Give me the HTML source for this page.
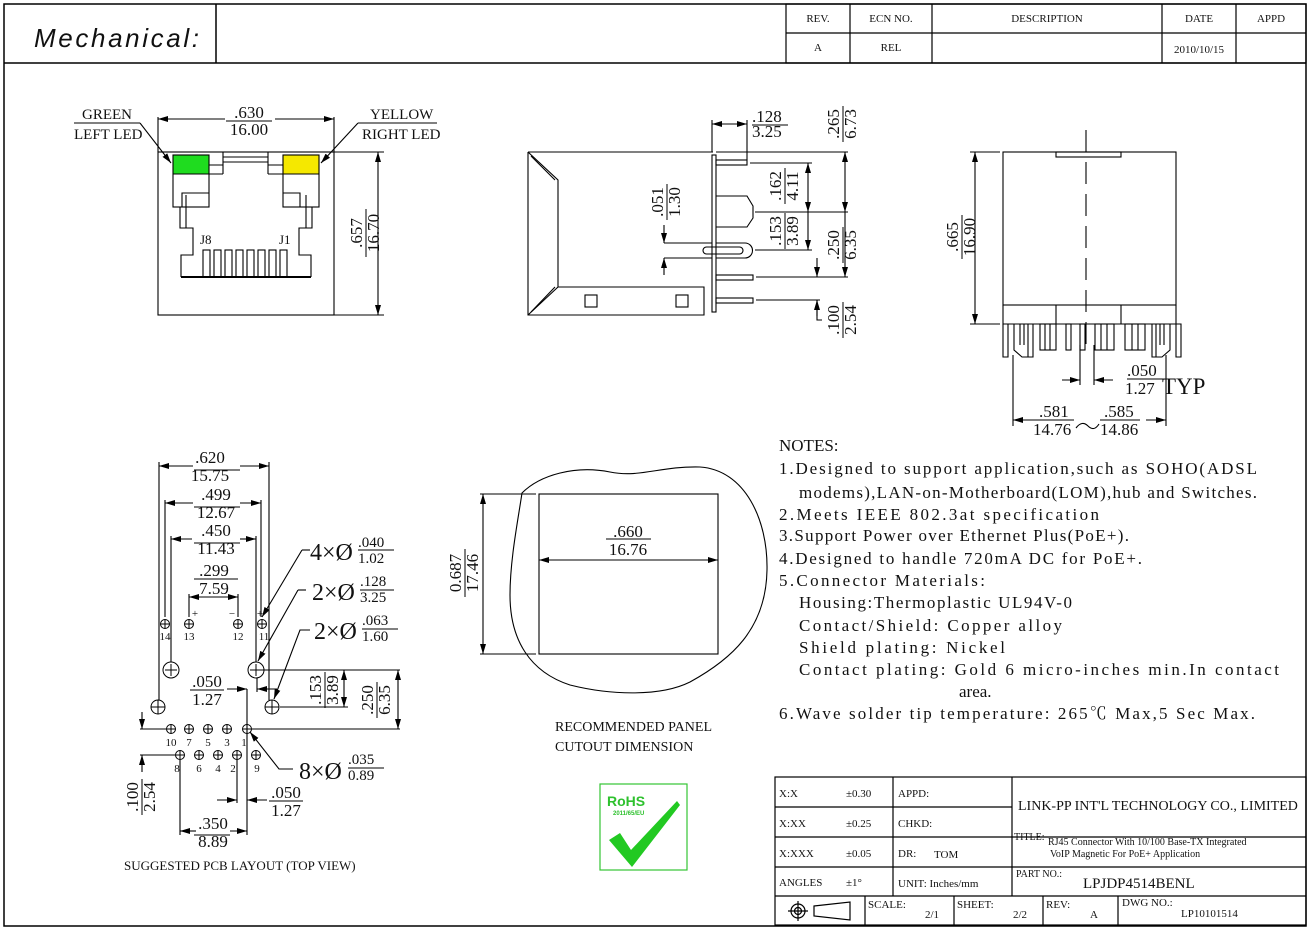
<!DOCTYPE html>
<html><head><meta charset="utf-8"><style>
html,body{margin:0;padding:0;background:#fff}
svg{display:block}
text{font-family:"Liberation Serif","Noto Serif CJK SC",serif;fill:#111}
.s{font-family:"Liberation Sans Narrow","Liberation Sans",sans-serif}
</style></head><body>
<svg width="1310" height="929" viewBox="0 0 1310 929" xmlns="http://www.w3.org/2000/svg">
<defs>
<marker id="a" viewBox="0 0 10 6" refX="10" refY="3" markerWidth="10" markerHeight="6" orient="auto-start-reverse" markerUnits="userSpaceOnUse"><path d="M0 0L10 3L0 6z" fill="#000"/></marker>
</defs>
<g fill="none" stroke="#000" stroke-width="1.2">
<!-- frame -->
<rect x="4" y="4" width="1302" height="922" stroke-width="1.5"/>
<line x1="4" y1="63" x2="1306" y2="63" stroke-width="1.5"/>
<line x1="216" y1="4" x2="216" y2="63" stroke-width="1.5"/>
<rect x="786" y="4" width="520" height="59"/>
<line x1="786" y1="33" x2="1306" y2="33"/>
<line x1="850" y1="4" x2="850" y2="63"/><line x1="932" y1="4" x2="932" y2="63"/>
<line x1="1162" y1="4" x2="1162" y2="63"/><line x1="1236" y1="4" x2="1236" y2="63"/>
</g>
<text x="34" y="47" font-size="26" font-style="italic" class="s" textLength="165">Mechanical:</text>
<g font-size="11" text-anchor="middle">
<text x="818" y="22">REV.</text><text x="891" y="22">ECN NO.</text><text x="1047" y="22">DESCRIPTION</text><text x="1199" y="22">DATE</text><text x="1271" y="22">APPD</text>
<text x="818" y="51">A</text><text x="891" y="51">REL</text><text x="1199" y="53">2010/10/15</text>
</g>

<!-- ===== top-left front view ===== -->
<rect x="173" y="155" width="36" height="19" fill="#1fdc1f"/>
<rect x="283" y="155" width="36" height="19" fill="#f5e800"/>
<g fill="none" stroke="#000" stroke-width="1.1">
<rect x="158" y="152" width="176" height="163"/>
<rect x="173" y="155" width="36" height="52"/><line x1="173" y1="174" x2="209" y2="174"/>
<rect x="283" y="155" width="36" height="52"/><line x1="283" y1="174" x2="319" y2="174"/>
<path d="M223 174V152H268V174M223 157H268M223 162H268M209 165H223M209 174H223M268 165H283M268 174H283"/>
<path d="M182 207V193H209M300 207V193H283"/>
<path d="M180 207V228H193V255H181V277M312 207V228H299V255H311V277"/>
<path d="M186 195V228M306 195V228"/>
<line x1="181" y1="277" x2="311" y2="277" stroke-width="2"/>
<g>
<rect x="203" y="250" width="7" height="27"/><rect x="214" y="250" width="7" height="27"/><rect x="225" y="250" width="7" height="27"/><rect x="236" y="250" width="7" height="27"/><rect x="247" y="250" width="7" height="27"/><rect x="258" y="250" width="7" height="27"/><rect x="269" y="250" width="7" height="27"/><rect x="280" y="250" width="7" height="27"/>
</g>
<line x1="158" y1="117" x2="158" y2="152"/><line x1="334" y1="117" x2="334" y2="152"/>
<line x1="158" y1="119" x2="225" y2="119" marker-start="url(#a)"/><line x1="275" y1="119" x2="334" y2="119" marker-end="url(#a)"/>
<line x1="334" y1="152" x2="384" y2="152"/><line x1="334" y1="315" x2="384" y2="315"/>
<line x1="378" y1="152" x2="378" y2="315" marker-start="url(#a)" marker-end="url(#a)"/>
<line x1="74" y1="123" x2="140" y2="123"/><line x1="140" y1="123" x2="171" y2="163" marker-end="url(#a)"/>
<line x1="358" y1="123" x2="437" y2="123"/><line x1="358" y1="123" x2="321" y2="163" marker-end="url(#a)"/>
<line x1="226" y1="121" x2="272" y2="121"/>
</g>
<g font-size="15">
<text x="82" y="119">GREEN</text><text x="74" y="139">LEFT LED</text>
<text x="370" y="119">YELLOW</text><text x="362" y="139">RIGHT LED</text>
<text x="249" y="118" font-size="17" text-anchor="middle">.630</text><text x="249" y="135" font-size="17" text-anchor="middle">16.00</text>
<text x="200" y="244" font-size="13">J8</text><text x="279" y="244" font-size="13">J1</text>
</g>
<g transform="translate(366,233) rotate(-90)" font-size="17" text-anchor="middle"><text x="0" y="-4">.657</text><text x="0" y="13">16.70</text><line x1="-24" y1="0" x2="24" y2="0" stroke="#000"/></g>

<!-- ===== top-middle side view ===== -->
<g fill="none" stroke="#000" stroke-width="1.1">
<path d="M528 152H713M528 152V315H704V287H558V180L528 152M558 287L528 315"/>
<path d="M531 156L555 180M531 312L555 287"/>
<rect x="712" y="155" width="4" height="157"/>
<rect x="585" y="295" width="12" height="12"/><rect x="676" y="295" width="12" height="12"/>
<rect x="716" y="160" width="31" height="5"/>
<path d="M716 196H747L753 206V218L747 227H716"/>
<path d="M716 243H745A7.5 7.5 0 0 1 745 258H716"/><rect x="703" y="247" width="40" height="7" rx="3.5"/>
<rect x="716" y="275" width="37" height="5"/><rect x="716" y="298" width="37" height="5"/>
<line x1="712" y1="120" x2="712" y2="152"/><line x1="747" y1="120" x2="747" y2="160"/>
<line x1="712" y1="124" x2="747" y2="124" marker-start="url(#a)" marker-end="url(#a)"/>
<line x1="716" y1="152" x2="848" y2="152"/><line x1="756" y1="277" x2="848" y2="277"/>
<line x1="845" y1="152" x2="845" y2="212" marker-start="url(#a)" marker-end="url(#a)"/><line x1="845" y1="212" x2="845" y2="277" marker-end="url(#a)"/>
<line x1="750" y1="163" x2="812" y2="163"/><line x1="755" y1="212" x2="848" y2="212"/><line x1="755" y1="250" x2="812" y2="250"/>
<line x1="808" y1="163" x2="808" y2="212" marker-start="url(#a)" marker-end="url(#a)"/><line x1="808" y1="212" x2="808" y2="250" marker-end="url(#a)"/>
<line x1="664" y1="243" x2="712" y2="243"/><line x1="664" y1="258" x2="712" y2="258"/>
<line x1="664" y1="225" x2="664" y2="243" marker-end="url(#a)"/><line x1="664" y1="275" x2="664" y2="258" marker-end="url(#a)"/>
<line x1="756" y1="300" x2="820" y2="300"/>
<line x1="817" y1="258" x2="817" y2="277" marker-end="url(#a)"/><path d="M817 300V320H822" /><line x1="817" y1="316" x2="817" y2="300" marker-end="url(#a)"/>
<line x1="752" y1="125" x2="788" y2="125"/>
</g>
<g font-size="17"><text x="752" y="122">.128</text><text x="752" y="137">3.25</text></g>
<g transform="translate(843,124) rotate(-90)" font-size="17" text-anchor="middle"><text x="0" y="-4">.265</text><text x="0" y="13">6.73</text><line x1="-18" y1="0" x2="18" y2="0" stroke="#000"/></g>
<g transform="translate(785,186) rotate(-90)" font-size="17" text-anchor="middle"><text x="0" y="-4">.162</text><text x="0" y="13">4.11</text><line x1="-18" y1="0" x2="18" y2="0" stroke="#000"/></g>
<g transform="translate(785,231) rotate(-90)" font-size="17" text-anchor="middle"><text x="0" y="-4">.153</text><text x="0" y="13">3.89</text><line x1="-18" y1="0" x2="18" y2="0" stroke="#000"/></g>
<g transform="translate(843,245) rotate(-90)" font-size="17" text-anchor="middle"><text x="0" y="-4">.250</text><text x="0" y="13">6.35</text><line x1="-18" y1="0" x2="18" y2="0" stroke="#000"/></g>
<g transform="translate(667,202) rotate(-90)" font-size="17" text-anchor="middle"><text x="0" y="-4">.051</text><text x="0" y="13">1.30</text><line x1="-18" y1="0" x2="18" y2="0" stroke="#000"/></g>
<g transform="translate(843,320) rotate(-90)" font-size="17" text-anchor="middle"><text x="0" y="-4">.100</text><text x="0" y="13">2.54</text><line x1="-18" y1="0" x2="18" y2="0" stroke="#000"/></g>

<!-- ===== top-right view ===== -->
<g fill="none" stroke="#000" stroke-width="1.1">
<rect x="1003" y="152" width="173" height="153"/>
<rect x="1056" y="152" width="65" height="5"/>
<path d="M1003 305V324H1176V305M1056 305V324M1121 305V324"/>
<line x1="1086" y1="130" x2="1086" y2="353" stroke-dasharray="22 10"/>
<path d="M1003 324V357H1008V324"/><path d="M1176 324V357H1181V324H1176"/>
<path d="M1014 324V350L1022 357H1033V324M1020 324V345M1024 324V345M1028 324V357"/>
<path d="M1170 324V350L1162 357H1152V324M1164 324V345M1160 324V345M1156 324V357"/>
<rect x="1040" y="324" width="16" height="26"/><line x1="1045" y1="324" x2="1045" y2="350"/><line x1="1050" y1="324" x2="1050" y2="350"/>
<rect x="1066" y="324" width="5" height="26"/><rect x="1080" y="324" width="5" height="26"/>
<rect x="1095" y="324" width="19" height="26"/><line x1="1101" y1="324" x2="1101" y2="350"/><line x1="1107" y1="324" x2="1107" y2="350"/>
<rect x="1125" y="324" width="20" height="26"/><line x1="1132" y1="324" x2="1132" y2="350"/><line x1="1138" y1="324" x2="1138" y2="350"/>
<line x1="970" y1="152" x2="1000" y2="152"/><line x1="970" y1="324" x2="1000" y2="324"/>
<line x1="975" y1="152" x2="975" y2="324" marker-start="url(#a)" marker-end="url(#a)"/>
<line x1="1080" y1="345" x2="1080" y2="385"/><line x1="1094" y1="345" x2="1094" y2="385"/>
<line x1="1062" y1="380" x2="1080" y2="380" marker-end="url(#a)"/><line x1="1113" y1="380" x2="1094" y2="380" marker-end="url(#a)"/>
<line x1="1127" y1="379" x2="1163" y2="379"/>
<line x1="1013" y1="355" x2="1013" y2="426"/><line x1="1166" y1="355" x2="1166" y2="426"/>
<line x1="1013" y1="420" x2="1033" y2="420" marker-start="url(#a)"/><line x1="1146" y1="420" x2="1166" y2="420" marker-end="url(#a)"/>
<line x1="1033" y1="420" x2="1074" y2="420"/><line x1="1100" y1="420" x2="1140" y2="420"/>
<path d="M1076 428Q1082 420 1088 426T1099 424"/>
</g>
<g transform="translate(962,237) rotate(-90)" font-size="17" text-anchor="middle"><text x="0" y="-4">.665</text><text x="0" y="13">16.90</text><line x1="-22" y1="0" x2="22" y2="0" stroke="#000"/></g>
<g font-size="17"><text x="1127" y="376">.050</text><text x="1125" y="394">1.27</text><text x="1162" y="394" font-size="23">TYP</text>
<text x="1039" y="417">.581</text><text x="1033" y="435">14.76</text><text x="1104" y="417">.585</text><text x="1100" y="435">14.86</text></g>

<!-- ===== PCB layout ===== -->
<g fill="none" stroke="#000" stroke-width="1.1">
<line x1="159" y1="462" x2="159" y2="700"/><line x1="269" y1="462" x2="269" y2="700"/>
<line x1="159" y1="466" x2="193" y2="466" marker-start="url(#a)"/><line x1="240" y1="466" x2="269" y2="466" marker-end="url(#a)"/>
<line x1="165" y1="500" x2="165" y2="617"/><line x1="261" y1="500" x2="261" y2="617"/>
<line x1="165" y1="503" x2="193" y2="503" marker-start="url(#a)"/><line x1="240" y1="503" x2="261" y2="503" marker-end="url(#a)"/>
<line x1="171" y1="536" x2="171" y2="662"/><line x1="256" y1="536" x2="256" y2="662"/>
<line x1="171" y1="539" x2="192" y2="539" marker-start="url(#a)"/><line x1="240" y1="539" x2="256" y2="539" marker-end="url(#a)"/>
<line x1="189" y1="594" x2="189" y2="617"/><line x1="238" y1="594" x2="238" y2="617"/>
<line x1="189" y1="597" x2="238" y2="597" marker-start="url(#a)" marker-end="url(#a)"/>
<line x1="194" y1="470" x2="240" y2="470"/><line x1="194" y1="507" x2="240" y2="507"/><line x1="194" y1="543" x2="240" y2="543"/><line x1="194" y1="579" x2="238" y2="579"/>
<g stroke-width="1">
<circle cx="165" cy="624" r="4.5"/><circle cx="189" cy="624" r="4.5"/><circle cx="238" cy="624" r="4.5"/><circle cx="262" cy="624" r="4.5"/>
<path d="M160.5 624h9M165 619.5v9M184.5 624h9M189 619.5v9M233.5 624h9M238 619.5v9M257.5 624h9M262 619.5v9"/>
<circle cx="171" cy="670" r="8"/><circle cx="256" cy="670" r="8"/>
<path d="M165 670h12M171 664v12M250 670h12M256 664v12"/>
<circle cx="158" cy="707" r="7"/><circle cx="272" cy="707" r="7"/>
<path d="M151 707h14M158 700v14M265 707h14M272 700v14"/>
<circle cx="171" cy="729" r="4.5"/><circle cx="189" cy="729" r="4.5"/><circle cx="208" cy="729" r="4.5"/><circle cx="227" cy="729" r="4.5"/><circle cx="247" cy="729" r="4.5"/>
<path d="M166.5 729h9M171 724.5v9M184.5 729h9M189 724.5v9M203.5 729h9M208 724.5v9M222.5 729h9M227 724.5v9M242.5 729h9M247 724.5v9"/>
<circle cx="180" cy="755" r="4.5"/><circle cx="199" cy="755" r="4.5"/><circle cx="218" cy="755" r="4.5"/><circle cx="237" cy="755" r="4.5"/><circle cx="256" cy="755" r="4.5"/>
<path d="M175.5 755h9M180 750.5v9M194.5 755h9M199 750.5v9M213.5 755h9M218 750.5v9M232.5 755h9M237 750.5v9M251.5 755h9M256 750.5v9"/>
</g>
<line x1="227" y1="689" x2="247" y2="689" marker-end="url(#a)"/><line x1="277" y1="689" x2="257" y2="689" marker-end="url(#a)"/>
<line x1="247" y1="689" x2="247" y2="835"/><line x1="257" y1="678" x2="257" y2="692"/>
<line x1="262" y1="670" x2="400" y2="670"/><line x1="280" y1="707" x2="348" y2="707"/>
<line x1="344" y1="670" x2="344" y2="707" marker-start="url(#a)" marker-end="url(#a)"/>
<line x1="252" y1="729" x2="400" y2="729"/>
<line x1="398" y1="670" x2="398" y2="729" marker-start="url(#a)" marker-end="url(#a)"/>
<line x1="140" y1="729" x2="166" y2="729"/><line x1="140" y1="755" x2="175" y2="755"/>
<line x1="142" y1="712" x2="142" y2="729" marker-end="url(#a)"/><line x1="142" y1="772" x2="142" y2="755" marker-end="url(#a)"/>
<line x1="237" y1="760" x2="237" y2="803"/>
<line x1="217" y1="800" x2="237" y2="800" marker-end="url(#a)"/><line x1="267" y1="800" x2="247" y2="800" marker-end="url(#a)"/>
<line x1="180" y1="760" x2="180" y2="835"/>
<line x1="180" y1="831" x2="196" y2="831" marker-start="url(#a)"/><line x1="230" y1="831" x2="247" y2="831" marker-end="url(#a)"/>
<line x1="194" y1="835" x2="230" y2="835"/><line x1="269" y1="801" x2="303" y2="801"/>
<line x1="190" y1="690" x2="224" y2="690"/>
<path d="M302 550L262 617" marker-end="url(#a)"/><line x1="302" y1="550" x2="310" y2="550"/>
<path d="M298 590L258 661" marker-end="url(#a)"/><line x1="298" y1="590" x2="306" y2="590"/>
<path d="M310 630H300L274 699" marker-end="url(#a)"/>
<path d="M293 769H279L250 732" marker-end="url(#a)"/>
</g>
<g font-size="17" text-anchor="middle">
<text x="210" y="463">.620</text><text x="210" y="481">15.75</text>
<text x="216" y="500">.499</text><text x="216" y="518">12.67</text>
<text x="216" y="536">.450</text><text x="216" y="554">11.43</text>
<text x="214" y="576">.299</text><text x="214" y="594">7.59</text>
<text x="207" y="687">.050</text><text x="207" y="705">1.27</text>
<text x="286" y="798">.050</text><text x="286" y="816">1.27</text>
<text x="213" y="829">.350</text><text x="213" y="847">8.89</text>
</g>
<g font-size="11" text-anchor="middle">
<text x="165" y="640">14</text><text x="189" y="640">13</text><text x="238" y="640">12</text><text x="264" y="640">11</text>
<text x="195" y="617">+</text><text x="232" y="617">−</text><text x="260" y="617">+</text>
<text x="171" y="746">10</text><text x="189" y="746">7</text><text x="208" y="746">5</text><text x="227" y="746">3</text><text x="244" y="746">1</text>
<text x="177" y="772">8</text><text x="199" y="772">6</text><text x="218" y="772">4</text><text x="233" y="772">2</text><text x="257" y="772">9</text>
</g>
<g transform="translate(325,690) rotate(-90)" font-size="17" text-anchor="middle"><text x="0" y="-4">.153</text><text x="0" y="13">3.89</text><line x1="-18" y1="0" x2="18" y2="0" stroke="#000"/></g>
<g transform="translate(377,700) rotate(-90)" font-size="17" text-anchor="middle"><text x="0" y="-4">.250</text><text x="0" y="13">6.35</text><line x1="-18" y1="0" x2="18" y2="0" stroke="#000"/></g>
<g transform="translate(142,797) rotate(-90)" font-size="17" text-anchor="middle"><text x="0" y="-4">.100</text><text x="0" y="13">2.54</text><line x1="-18" y1="0" x2="18" y2="0" stroke="#000"/></g>
<g font-size="24">
<text x="310" y="560">4×Ø</text><text x="312" y="600">2×Ø</text><text x="314" y="639">2×Ø</text><text x="299" y="779">8×Ø</text>
</g>
<g font-size="15">
<text x="358" y="547">.040</text><text x="358" y="563">1.02</text><line x1="358" y1="550" x2="394" y2="550" stroke="#000"/>
<text x="360" y="586">.128</text><text x="360" y="602">3.25</text><line x1="360" y1="590" x2="394" y2="590" stroke="#000"/>
<text x="362" y="625">.063</text><text x="362" y="641">1.60</text><line x1="362" y1="629" x2="398" y2="629" stroke="#000"/>
<text x="348" y="764">.035</text><text x="348" y="780">0.89</text><line x1="348" y1="768" x2="384" y2="768" stroke="#000"/>
</g>
<text x="124" y="870" font-size="13">SUGGESTED PCB LAYOUT (TOP VIEW)</text>

<!-- ===== panel cutout ===== -->
<g fill="none" stroke="#000" stroke-width="1.1">
<path d="M522 493C540 475 575 465 610 472C640 478 660 466 700 467C745 470 768 520 767 570C766 630 730 660 690 682C660 697 610 695 570 685C530 672 510 640 510 595C510 560 518 520 522 493Z"/>
<rect x="539" y="494" width="179" height="160" fill="#fff"/>
<line x1="539" y1="560" x2="718" y2="560" marker-start="url(#a)" marker-end="url(#a)"/>
<line x1="480" y1="494" x2="536" y2="494"/><line x1="480" y1="654" x2="536" y2="654"/>
<line x1="483" y1="494" x2="483" y2="654" marker-start="url(#a)" marker-end="url(#a)"/>
<line x1="606" y1="539" x2="651" y2="539"/>
</g>
<g font-size="17" text-anchor="middle"><text x="628" y="537">.660</text><text x="628" y="555">16.76</text></g>
<g transform="translate(465,573) rotate(-90)" font-size="17" text-anchor="middle"><text x="0" y="-4">0.687</text><text x="0" y="13">17.46</text><line x1="-24" y1="0" x2="24" y2="0" stroke="#000"/></g>
<text x="555" y="731" font-size="14">RECOMMENDED PANEL</text>
<text x="555" y="751" font-size="14">CUTOUT DIMENSION</text>
<rect x="600" y="784" width="87" height="86" fill="#fff" stroke="#34c534" stroke-width="1.2"/>
<text x="607" y="806" font-size="14" font-weight="bold" class="s" style="fill:#2ec12e">RoHS</text>
<text x="613" y="815" font-size="6" font-weight="bold" class="s" style="fill:#2ec12e">2011/65/EU</text>
<path d="M609 840L620 833L631 850L677 801L680 805L632 867Z" fill="#22c922"/>

<!-- ===== notes ===== -->
<g font-size="17">
<text x="779" y="451">NOTES:</text>
<text x="779" y="474" textLength="478">1.Designed to support application,such as SOHO(ADSL</text>
<text x="799" y="498" textLength="458">modems),LAN-on-Motherboard(LOM),hub and Switches.</text>
<text x="779" y="520" textLength="320">2.Meets IEEE 802.3at specification</text>
<text x="779" y="541" textLength="350">3.Support Power over Ethernet Plus(PoE+).</text>
<text x="779" y="564" textLength="363">4.Designed to handle 720mA DC for PoE+.</text>
<text x="779" y="586" textLength="206">5.Connector Materials:</text>
<text x="799" y="608" textLength="273">Housing:Thermoplastic UL94V-0</text>
<text x="799" y="631" textLength="263">Contact/Shield: Copper alloy</text>
<text x="799" y="653" textLength="206">Shield plating: Nickel</text>
<text x="799" y="675" textLength="480">Contact plating: Gold 6 micro-inches min.In contact</text>
<text x="959" y="697">area.</text>
<text x="779" y="719" textLength="476">6.Wave solder tip temperature: 265℃ Max,5 Sec Max.</text>
</g>

<!-- ===== title block ===== -->
<g fill="none" stroke="#000" stroke-width="1.2">
<rect x="775" y="777" width="531" height="148"/>
<line x1="775" y1="807" x2="1012" y2="807"/><line x1="775" y1="837" x2="1306" y2="837"/>
<line x1="775" y1="867" x2="1306" y2="867"/><line x1="775" y1="896" x2="1306" y2="896"/>
<line x1="893" y1="777" x2="893" y2="896"/><line x1="1012" y1="777" x2="1012" y2="896"/>
<line x1="865" y1="896" x2="865" y2="925"/><line x1="954" y1="896" x2="954" y2="925"/>
<line x1="1043" y1="896" x2="1043" y2="925"/><line x1="1118" y1="896" x2="1118" y2="925"/>
<circle cx="798" cy="911" r="7"/><circle cx="798" cy="911" r="3.5"/><path d="M788 911h20M798 901v20"/>
<path d="M814 906L850 902V920L814 916Z"/>
</g>
<g font-size="11">
<text x="779" y="797">X:X</text><text x="846" y="797">±0.30</text><text x="898" y="797">APPD:</text>
<text x="779" y="827">X:XX</text><text x="846" y="827">±0.25</text><text x="898" y="827">CHKD:</text>
<text x="779" y="857">X:XXX</text><text x="846" y="857">±0.05</text><text x="898" y="857">DR:</text><text x="934" y="858">TOM</text>
<text x="779" y="886">ANGLES</text><text x="846" y="886">±1°</text><text x="898" y="887">UNIT: Inches/mm</text>
<text x="1018" y="810" font-size="14">LINK-PP INT'L TECHNOLOGY CO., LIMITED</text>
<text x="1014" y="840" font-size="10">TITLE:</text>
<text x="1048" y="845" font-size="10">RJ45 Connector With 10/100 Base-TX Integrated</text>
<text x="1050" y="857" font-size="10">VoIP Magnetic For PoE+ Application</text>
<text x="1016" y="877" font-size="10">PART NO.:</text>
<text x="1083" y="888" font-size="15">LPJDP4514BENL</text>
<text x="868" y="908">SCALE:</text><text x="925" y="918">2/1</text>
<text x="957" y="908">SHEET:</text><text x="1013" y="918">2/2</text>
<text x="1046" y="908">REV:</text><text x="1090" y="918">A</text>
<text x="1122" y="906">DWG NO.:</text><text x="1181" y="917">LP10101514</text>
</g>
</svg>
</body></html>
